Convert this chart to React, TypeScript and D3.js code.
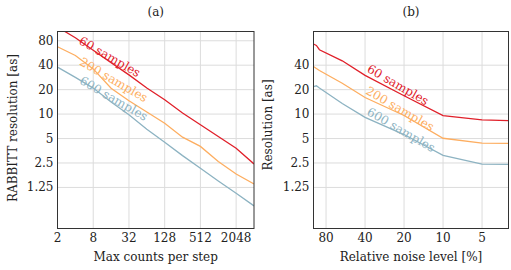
import * as d3 from 'd3';

// panel (a): max counts per step
const countsX = [2, 4, 8, 16, 32, 64, 128, 256, 512, 1024, 2048, 4096];
const countsRed = [118, 87, 61, 43, 30.4, 21, 15, 10.3, 7.4, 5.3, 3.8, 2.43];
const countsOrange = [67.5, 52.7, 36, 20.8, 14.6, 10.6, 7.7, 5.2, 4.0, 2.6, 1.83, 1.38];
const countsBlue = [37.9, 28.3, 20.9, 14.1, 9.8, 6.5, 4.5, 3.08, 2.15, 1.5, 1.06, 0.74];
const countsTicks = [2, 8, 32, 128, 512, 2048];

// panel (b): relative noise level [%]
const noiseX = [100, 95, 90, 60, 40, 20, 10, 5, 3.125];
const noiseRed = [73, 70, 62, 45.3, 30, 16.8, 9.6, 8.5, 8.3];
const noiseOrange = [38.6, 36.5, 34.4, 24, 16, 9.6, 5.04, 4.4, 4.35];
const noiseBlue = [21.8, 22.3, 20.9, 13.5, 9.1, 5.6, 3.1, 2.42, 2.4];
const noiseTicks = [80, 40, 20, 10, 5];

const yTicksA = [80, 40, 20, 10, 5, 2.5, 1.25];
const yTicksB = [40, 20, 10, 5, 2.5, 1.25];

const seriesNames = ['60 samples', '200 samples', '600 samples'];
const colors = ['#e0202a', '#fdae61', '#8db3c2'];

// label anchors in data units [x, y]
const labelsA: [number, number][] = [[15.2, 50.7], [17.7, 26.4], [17.7, 15.5]];
const labelsB: [number, number][] = [[22.3, 22.9], [21.5, 11.6], [21.1, 6.4]];

const FONT = 'DejaVu Serif';
const FS = 12;
const top = 31.5;
const bottom = 228.5;

type PanelProps = {
  id: string;
  title: string;
  xs: number[];
  series: number[][];
  xDomain: [number, number];
  xRange: [number, number];
  xTicks: number[];
  yTicks: number[];
  xLabel: string;
  yLabel: string;
  yLabelX: number;
  yLabelY: number;
  labels: [number, number][];
};

const Panel = (p: PanelProps) => {
  const x = d3.scaleLog().domain(p.xDomain).range(p.xRange);
  const y = d3.scaleLog().domain([104, 0.39]).range([top, bottom]);
  const [x0, x1] = p.xRange;
  const cx = (x0 + x1) / 2;
  const line = d3.line<number>()
    .x((_, i) => x(p.xs[i]))
    .y(d => y(d));

  return (
    <g style={{ fontFamily: FONT }}>
      <defs>
        <clipPath id={p.id}>
          <rect x={x0} y={top} width={x1 - x0} height={bottom - top} />
        </clipPath>
      </defs>
      {/* grid */}
      {p.xTicks.map(t => (
        <line key={'gx' + t} x1={x(t)} x2={x(t)} y1={top} y2={bottom} stroke="#dcdcdc" strokeWidth={1} />
      ))}
      {p.yTicks.map(t => (
        <line key={'gy' + t} x1={x0} x2={x1} y1={y(t)} y2={y(t)} stroke="#dcdcdc" strokeWidth={1} />
      ))}
      {/* series */}
      <g clipPath={`url(#${p.id})`}>
        {p.series.map((s, i) => (
          <path key={i} d={line(s) || ''} fill="none" stroke={colors[i]} strokeWidth={1.3} />
        ))}
      </g>
      {p.labels.map(([lx, ly], i) => (
        <text key={'l' + i} x={x(lx)} y={y(ly)} fill={colors[i]} fontSize={FS}
          textAnchor="middle" dominantBaseline="central"
          transform={`rotate(30 ${x(lx)} ${y(ly)})`}>
          {seriesNames[i]}
        </text>
      ))}
      {/* frame */}
      <rect x={x0} y={top} width={x1 - x0} height={bottom - top} fill="none" stroke="#333" strokeWidth={1} />
      {/* tick labels */}
      {p.xTicks.map(t => (
        <text key={'tx' + t} x={x(t)} y={bottom + 13} fontSize={FS} textAnchor="middle" fill="#222">{t}</text>
      ))}
      {p.yTicks.map(t => (
        <text key={'ty' + t} x={x0 - 4} y={y(t)} fontSize={FS} textAnchor="end" dominantBaseline="central" fill="#222">{t}</text>
      ))}
      <text x={cx} y={16} fontSize={FS} textAnchor="middle" fill="#222">{p.title}</text>
      <text x={cx} y={261} fontSize={FS} textAnchor="middle" fill="#222">{p.xLabel}</text>
      <text transform={`translate(${p.yLabelX},${p.yLabelY}) rotate(-90)`} fontSize={FS}
        textAnchor="middle" dominantBaseline="central" fill="#222">{p.yLabel}</text>
    </g>
  );
};

export default function App() {
  return (
    <svg width={511} height={270} style={{ position: 'absolute', left: 0, top: 0, background: '#fff' }}>
      <Panel id="clipA" title="(a)" xs={countsX} series={[countsRed, countsOrange, countsBlue]}
        xDomain={[2, 4096]} xRange={[57.5, 254]} xTicks={countsTicks} yTicks={yTicksA}
        xLabel="Max counts per step" yLabel="RABBITT resolution [as]" yLabelX={13} yLabelY={128}
        labels={labelsA} />
      <Panel id="clipB" title="(b)" xs={noiseX} series={[noiseRed, noiseOrange, noiseBlue]}
        xDomain={[100, 3.125]} xRange={[313.5, 508.5]} xTicks={noiseTicks} yTicks={yTicksB}
        xLabel="Relative noise level [%]" yLabel="Resolution [as]" yLabelX={268} yLabelY={125}
        labels={labelsB} />
    </svg>
  );
}
